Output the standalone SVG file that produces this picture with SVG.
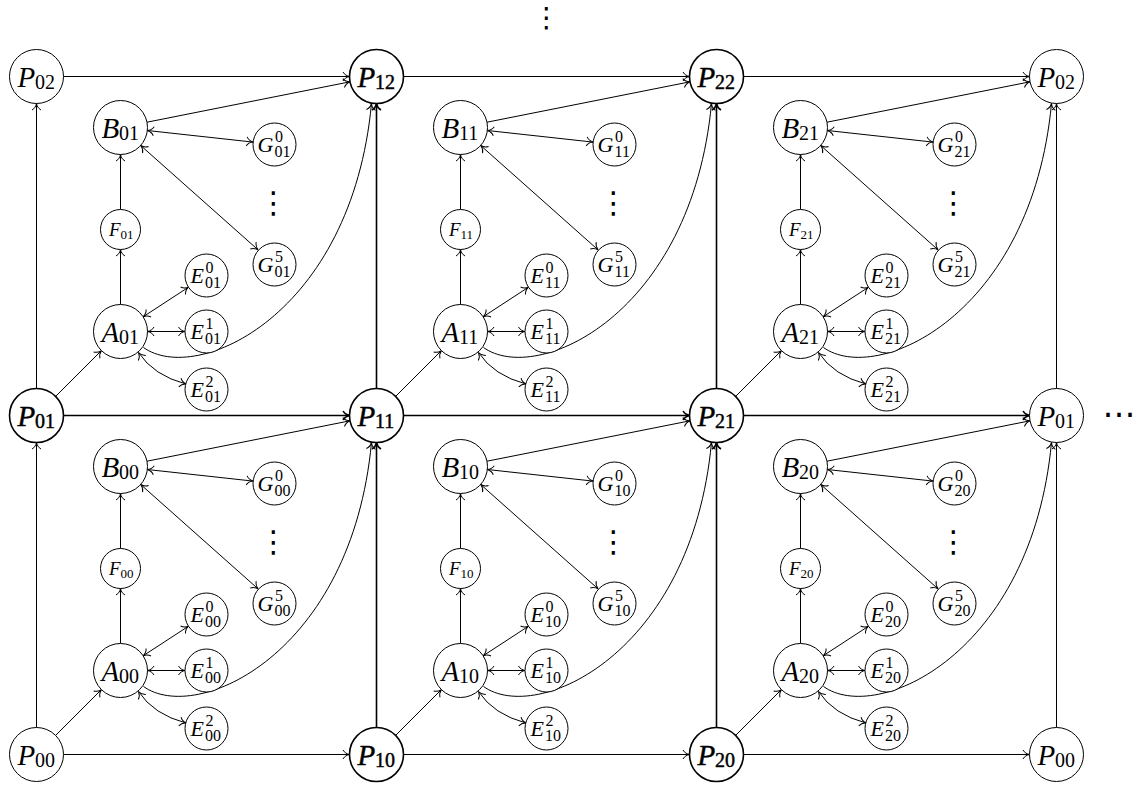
<svg xmlns="http://www.w3.org/2000/svg" width="1135" height="788" viewBox="0 0 1135 788">
<style>
#nodes circle{fill:#fff;stroke:#000;stroke-width:1}
#nodes .dbl circle{stroke-width:1.6}
#nodes .dbl text{stroke:#000;stroke-width:0.45}
svg #nodes text{font-family:"Liberation Serif","Times New Roman",serif !important}
svg #nodes text.dots, svg text.dots{font-family:"DejaVu Sans",sans-serif !important}
.c{fill:none;stroke:#000;stroke-width:1;marker-end:url(#ah)}
.t{stroke-width:1.6;marker-end:url(#ahb)}
</style>
<defs>
<marker id="ah" markerUnits="userSpaceOnUse" markerWidth="14" markerHeight="14" viewBox="-10 -7 12 14" refX="0" refY="0" orient="auto-start-reverse" overflow="visible"><path d="M-6.5,-4.5 C-5,-1.8 -2.5,-0.5 0,0 C-2.5,0.5 -5,1.8 -6.5,4.5" fill="none" stroke="#000" stroke-width="1"/></marker>
<marker id="ahb" markerUnits="userSpaceOnUse" markerWidth="14" markerHeight="14" viewBox="-10 -7 12 14" refX="0" refY="0" orient="auto-start-reverse" overflow="visible"><path d="M-6.5,-4.5 C-5,-1.8 -2.5,-0.5 0,0 C-2.5,0.5 -5,1.8 -6.5,4.5" fill="none" stroke="#000" stroke-width="1.5"/></marker>
<g id="cellEdges" class="c">
<path d="M19.1,-19.1 L64.9,-64.9"/><path d="M84,-111 L84,-166"/><path d="M84,-206 L84,-261"/><path d="M110.5,-293.3 L313.5,-333.7"/><path marker-start="url(#ah)" d="M110.8,-285 L216.6,-273.4"/><path marker-start="url(#ah)" d="M104.2,-270 L221.6,-165.6"/><path marker-start="url(#ah)" d="M106.6,-98.7 L152,-128.3"/><path marker-start="url(#ah)" d="M111,-84 L148.5,-84"/><path marker-start="url(#ah)" d="M102,-63 Q117,-40 149.7,-31.4"/><path d="M107,-68 C160,-30 315,-100 335,-312"/>
</g>
</defs>

<g id="connectors">
<g id="grid-edges" class="c">
<path d="M63.5,754.5 H349.5"/>
<path d="M403.5,754.5 H689.5"/>
<path d="M743.5,754.5 H1029.5"/>
<path class="t" d="M63.5,415.5 H349.5"/>
<path class="t" d="M403.5,415.5 H689.5"/>
<path class="t" d="M743.5,415.5 H1029.5"/>
<path d="M63.5,76.5 H349.5"/>
<path d="M403.5,76.5 H689.5"/>
<path d="M743.5,76.5 H1029.5"/>
<path d="M36.5,727.5 V442.5"/>
<path d="M36.5,388.5 V103.5"/>
<path class="t" d="M376.5,727.5 V442.5"/>
<path class="t" d="M376.5,388.5 V103.5"/>
<path class="t" d="M716.5,727.5 V442.5"/>
<path class="t" d="M716.5,388.5 V103.5"/>
<path d="M1056.5,727.5 V442.5"/>
<path d="M1056.5,388.5 V103.5"/>
</g>
<use id="cell-edges-00" href="#cellEdges" transform="translate(36.5,754.5)"/>
<use id="cell-edges-10" href="#cellEdges" transform="translate(376.5,754.5)"/>
<use id="cell-edges-20" href="#cellEdges" transform="translate(716.5,754.5)"/>
<use id="cell-edges-01" href="#cellEdges" transform="translate(36.5,415.5)"/>
<use id="cell-edges-11" href="#cellEdges" transform="translate(376.5,415.5)"/>
<use id="cell-edges-21" href="#cellEdges" transform="translate(716.5,415.5)"/>
</g>

<g id="nodes" font-family="Liberation Serif">
<g id="P00-left" transform="translate(36.5,754.5)"><circle r="27"/><text x="-19" y="10" font-family="Liberation Serif" font-size="29" font-style="italic">P</text><text x="-1.5" y="12.5" font-family="Liberation Serif" font-size="20">00</text></g>
<g id="P10" class="dbl" transform="translate(376.5,754.5)"><circle r="27"/><text x="-19" y="10" font-family="Liberation Serif" font-size="29" font-style="italic">P</text><text x="-1.5" y="12.5" font-family="Liberation Serif" font-size="20">10</text></g>
<g id="P20" class="dbl" transform="translate(716.5,754.5)"><circle r="27"/><text x="-19" y="10" font-family="Liberation Serif" font-size="29" font-style="italic">P</text><text x="-1.5" y="12.5" font-family="Liberation Serif" font-size="20">20</text></g>
<g id="P00-right" transform="translate(1056.5,754.5)"><circle r="27"/><text x="-19" y="10" font-family="Liberation Serif" font-size="29" font-style="italic">P</text><text x="-1.5" y="12.5" font-family="Liberation Serif" font-size="20">00</text></g>
<g id="P01-left" class="dbl" transform="translate(36.5,415.5)"><circle r="27"/><text x="-19" y="10" font-family="Liberation Serif" font-size="29" font-style="italic">P</text><text x="-1.5" y="12.5" font-family="Liberation Serif" font-size="20">01</text></g>
<g id="P11" class="dbl" transform="translate(376.5,415.5)"><circle r="27"/><text x="-19" y="10" font-family="Liberation Serif" font-size="29" font-style="italic">P</text><text x="-1.5" y="12.5" font-family="Liberation Serif" font-size="20">11</text></g>
<g id="P21" class="dbl" transform="translate(716.5,415.5)"><circle r="27"/><text x="-19" y="10" font-family="Liberation Serif" font-size="29" font-style="italic">P</text><text x="-1.5" y="12.5" font-family="Liberation Serif" font-size="20">21</text></g>
<g id="P01-right" transform="translate(1056.5,415.5)"><circle r="27"/><text x="-19" y="10" font-family="Liberation Serif" font-size="29" font-style="italic">P</text><text x="-1.5" y="12.5" font-family="Liberation Serif" font-size="20">01</text></g>
<g id="P02-left" transform="translate(36.5,76.5)"><circle r="27"/><text x="-19" y="10" font-family="Liberation Serif" font-size="29" font-style="italic">P</text><text x="-1.5" y="12.5" font-family="Liberation Serif" font-size="20">02</text></g>
<g id="P12" class="dbl" transform="translate(376.5,76.5)"><circle r="27"/><text x="-19" y="10" font-family="Liberation Serif" font-size="29" font-style="italic">P</text><text x="-1.5" y="12.5" font-family="Liberation Serif" font-size="20">12</text></g>
<g id="P22" class="dbl" transform="translate(716.5,76.5)"><circle r="27"/><text x="-19" y="10" font-family="Liberation Serif" font-size="29" font-style="italic">P</text><text x="-1.5" y="12.5" font-family="Liberation Serif" font-size="20">22</text></g>
<g id="P02-right" transform="translate(1056.5,76.5)"><circle r="27"/><text x="-19" y="10" font-family="Liberation Serif" font-size="29" font-style="italic">P</text><text x="-1.5" y="12.5" font-family="Liberation Serif" font-size="20">02</text></g>

<g id="A00" transform="translate(120.5,670.5)"><circle r="27"/><text x="-19" y="10" font-family="Liberation Serif" font-size="29" font-style="italic">A</text><text x="-1.5" y="12.5" font-family="Liberation Serif" font-size="20">00</text></g>
<g id="F00" transform="translate(120.5,568.5)"><circle r="20"/><text x="-11.5" y="6.5" font-family="Liberation Serif" font-size="19" font-style="italic">F</text><text x="0" y="9" font-family="Liberation Serif" font-size="13">00</text></g>
<g id="B00" transform="translate(120.5,466.5)"><circle r="27"/><text x="-19" y="10" font-family="Liberation Serif" font-size="29" font-style="italic">B</text><text x="-1.5" y="12.5" font-family="Liberation Serif" font-size="20">00</text></g>
<g id="E00-0" transform="translate(206.5,614.5)"><circle r="21.5"/><text x="-16" y="7" font-family="Liberation Serif" font-size="22" font-style="italic">E</text><text x="-1" y="-3" font-family="Liberation Serif" font-size="16">0</text><text x="-1.5" y="12.5" font-family="Liberation Serif" font-size="16">00</text></g>
<g id="E00-1" transform="translate(206.5,670.5)"><circle r="21.5"/><text x="-16" y="7" font-family="Liberation Serif" font-size="22" font-style="italic">E</text><text x="-1" y="-3" font-family="Liberation Serif" font-size="16">1</text><text x="-1.5" y="12.5" font-family="Liberation Serif" font-size="16">00</text></g>
<g id="E00-2" transform="translate(206.5,728.5)"><circle r="21.5"/><text x="-16" y="7" font-family="Liberation Serif" font-size="22" font-style="italic">E</text><text x="-1" y="-3" font-family="Liberation Serif" font-size="16">2</text><text x="-1.5" y="12.5" font-family="Liberation Serif" font-size="16">00</text></g>
<g id="G00-0" transform="translate(274.5,483.5)"><circle r="21.5"/><text x="-17" y="7" font-family="Liberation Serif" font-size="22" font-style="italic">G</text><text x="0.5" y="-3" font-family="Liberation Serif" font-size="16">0</text><text x="0" y="12.5" font-family="Liberation Serif" font-size="16">00</text></g>
<g id="G00-5" transform="translate(274.5,603.5)"><circle r="21.5"/><text x="-17" y="7" font-family="Liberation Serif" font-size="22" font-style="italic">G</text><text x="0.5" y="-3" font-family="Liberation Serif" font-size="16">5</text><text x="0" y="12.5" font-family="Liberation Serif" font-size="16">00</text></g>
<text class="dots" font-family="DejaVu Sans" font-size="30" text-anchor="middle" x="273.5" y="552">⋮</text>

<g id="A10" transform="translate(460.5,670.5)"><circle r="27"/><text x="-19" y="10" font-family="Liberation Serif" font-size="29" font-style="italic">A</text><text x="-1.5" y="12.5" font-family="Liberation Serif" font-size="20">10</text></g>
<g id="F10" transform="translate(460.5,568.5)"><circle r="20"/><text x="-11.5" y="6.5" font-family="Liberation Serif" font-size="19" font-style="italic">F</text><text x="0" y="9" font-family="Liberation Serif" font-size="13">10</text></g>
<g id="B10" transform="translate(460.5,466.5)"><circle r="27"/><text x="-19" y="10" font-family="Liberation Serif" font-size="29" font-style="italic">B</text><text x="-1.5" y="12.5" font-family="Liberation Serif" font-size="20">10</text></g>
<g id="E10-0" transform="translate(546.5,614.5)"><circle r="21.5"/><text x="-16" y="7" font-family="Liberation Serif" font-size="22" font-style="italic">E</text><text x="-1" y="-3" font-family="Liberation Serif" font-size="16">0</text><text x="-1.5" y="12.5" font-family="Liberation Serif" font-size="16">10</text></g>
<g id="E10-1" transform="translate(546.5,670.5)"><circle r="21.5"/><text x="-16" y="7" font-family="Liberation Serif" font-size="22" font-style="italic">E</text><text x="-1" y="-3" font-family="Liberation Serif" font-size="16">1</text><text x="-1.5" y="12.5" font-family="Liberation Serif" font-size="16">10</text></g>
<g id="E10-2" transform="translate(546.5,728.5)"><circle r="21.5"/><text x="-16" y="7" font-family="Liberation Serif" font-size="22" font-style="italic">E</text><text x="-1" y="-3" font-family="Liberation Serif" font-size="16">2</text><text x="-1.5" y="12.5" font-family="Liberation Serif" font-size="16">10</text></g>
<g id="G10-0" transform="translate(614.5,483.5)"><circle r="21.5"/><text x="-17" y="7" font-family="Liberation Serif" font-size="22" font-style="italic">G</text><text x="0.5" y="-3" font-family="Liberation Serif" font-size="16">0</text><text x="0" y="12.5" font-family="Liberation Serif" font-size="16">10</text></g>
<g id="G10-5" transform="translate(614.5,603.5)"><circle r="21.5"/><text x="-17" y="7" font-family="Liberation Serif" font-size="22" font-style="italic">G</text><text x="0.5" y="-3" font-family="Liberation Serif" font-size="16">5</text><text x="0" y="12.5" font-family="Liberation Serif" font-size="16">10</text></g>
<text class="dots" font-family="DejaVu Sans" font-size="30" text-anchor="middle" x="613.5" y="552">⋮</text>

<g id="A20" transform="translate(800.5,670.5)"><circle r="27"/><text x="-19" y="10" font-family="Liberation Serif" font-size="29" font-style="italic">A</text><text x="-1.5" y="12.5" font-family="Liberation Serif" font-size="20">20</text></g>
<g id="F20" transform="translate(800.5,568.5)"><circle r="20"/><text x="-11.5" y="6.5" font-family="Liberation Serif" font-size="19" font-style="italic">F</text><text x="0" y="9" font-family="Liberation Serif" font-size="13">20</text></g>
<g id="B20" transform="translate(800.5,466.5)"><circle r="27"/><text x="-19" y="10" font-family="Liberation Serif" font-size="29" font-style="italic">B</text><text x="-1.5" y="12.5" font-family="Liberation Serif" font-size="20">20</text></g>
<g id="E20-0" transform="translate(886.5,614.5)"><circle r="21.5"/><text x="-16" y="7" font-family="Liberation Serif" font-size="22" font-style="italic">E</text><text x="-1" y="-3" font-family="Liberation Serif" font-size="16">0</text><text x="-1.5" y="12.5" font-family="Liberation Serif" font-size="16">20</text></g>
<g id="E20-1" transform="translate(886.5,670.5)"><circle r="21.5"/><text x="-16" y="7" font-family="Liberation Serif" font-size="22" font-style="italic">E</text><text x="-1" y="-3" font-family="Liberation Serif" font-size="16">1</text><text x="-1.5" y="12.5" font-family="Liberation Serif" font-size="16">20</text></g>
<g id="E20-2" transform="translate(886.5,728.5)"><circle r="21.5"/><text x="-16" y="7" font-family="Liberation Serif" font-size="22" font-style="italic">E</text><text x="-1" y="-3" font-family="Liberation Serif" font-size="16">2</text><text x="-1.5" y="12.5" font-family="Liberation Serif" font-size="16">20</text></g>
<g id="G20-0" transform="translate(954.5,483.5)"><circle r="21.5"/><text x="-17" y="7" font-family="Liberation Serif" font-size="22" font-style="italic">G</text><text x="0.5" y="-3" font-family="Liberation Serif" font-size="16">0</text><text x="0" y="12.5" font-family="Liberation Serif" font-size="16">20</text></g>
<g id="G20-5" transform="translate(954.5,603.5)"><circle r="21.5"/><text x="-17" y="7" font-family="Liberation Serif" font-size="22" font-style="italic">G</text><text x="0.5" y="-3" font-family="Liberation Serif" font-size="16">5</text><text x="0" y="12.5" font-family="Liberation Serif" font-size="16">20</text></g>
<text class="dots" font-family="DejaVu Sans" font-size="30" text-anchor="middle" x="953.5" y="552">⋮</text>

<g id="A01" transform="translate(120.5,331.5)"><circle r="27"/><text x="-19" y="10" font-family="Liberation Serif" font-size="29" font-style="italic">A</text><text x="-1.5" y="12.5" font-family="Liberation Serif" font-size="20">01</text></g>
<g id="F01" transform="translate(120.5,229.5)"><circle r="20"/><text x="-11.5" y="6.5" font-family="Liberation Serif" font-size="19" font-style="italic">F</text><text x="0" y="9" font-family="Liberation Serif" font-size="13">01</text></g>
<g id="B01" transform="translate(120.5,127.5)"><circle r="27"/><text x="-19" y="10" font-family="Liberation Serif" font-size="29" font-style="italic">B</text><text x="-1.5" y="12.5" font-family="Liberation Serif" font-size="20">01</text></g>
<g id="E01-0" transform="translate(206.5,275.5)"><circle r="21.5"/><text x="-16" y="7" font-family="Liberation Serif" font-size="22" font-style="italic">E</text><text x="-1" y="-3" font-family="Liberation Serif" font-size="16">0</text><text x="-1.5" y="12.5" font-family="Liberation Serif" font-size="16">01</text></g>
<g id="E01-1" transform="translate(206.5,331.5)"><circle r="21.5"/><text x="-16" y="7" font-family="Liberation Serif" font-size="22" font-style="italic">E</text><text x="-1" y="-3" font-family="Liberation Serif" font-size="16">1</text><text x="-1.5" y="12.5" font-family="Liberation Serif" font-size="16">01</text></g>
<g id="E01-2" transform="translate(206.5,389.5)"><circle r="21.5"/><text x="-16" y="7" font-family="Liberation Serif" font-size="22" font-style="italic">E</text><text x="-1" y="-3" font-family="Liberation Serif" font-size="16">2</text><text x="-1.5" y="12.5" font-family="Liberation Serif" font-size="16">01</text></g>
<g id="G01-0" transform="translate(274.5,144.5)"><circle r="21.5"/><text x="-17" y="7" font-family="Liberation Serif" font-size="22" font-style="italic">G</text><text x="0.5" y="-3" font-family="Liberation Serif" font-size="16">0</text><text x="0" y="12.5" font-family="Liberation Serif" font-size="16">01</text></g>
<g id="G01-5" transform="translate(274.5,264.5)"><circle r="21.5"/><text x="-17" y="7" font-family="Liberation Serif" font-size="22" font-style="italic">G</text><text x="0.5" y="-3" font-family="Liberation Serif" font-size="16">5</text><text x="0" y="12.5" font-family="Liberation Serif" font-size="16">01</text></g>
<text class="dots" font-family="DejaVu Sans" font-size="30" text-anchor="middle" x="273.5" y="213">⋮</text>

<g id="A11" transform="translate(460.5,331.5)"><circle r="27"/><text x="-19" y="10" font-family="Liberation Serif" font-size="29" font-style="italic">A</text><text x="-1.5" y="12.5" font-family="Liberation Serif" font-size="20">11</text></g>
<g id="F11" transform="translate(460.5,229.5)"><circle r="20"/><text x="-11.5" y="6.5" font-family="Liberation Serif" font-size="19" font-style="italic">F</text><text x="0" y="9" font-family="Liberation Serif" font-size="13">11</text></g>
<g id="B11" transform="translate(460.5,127.5)"><circle r="27"/><text x="-19" y="10" font-family="Liberation Serif" font-size="29" font-style="italic">B</text><text x="-1.5" y="12.5" font-family="Liberation Serif" font-size="20">11</text></g>
<g id="E11-0" transform="translate(546.5,275.5)"><circle r="21.5"/><text x="-16" y="7" font-family="Liberation Serif" font-size="22" font-style="italic">E</text><text x="-1" y="-3" font-family="Liberation Serif" font-size="16">0</text><text x="-1.5" y="12.5" font-family="Liberation Serif" font-size="16">11</text></g>
<g id="E11-1" transform="translate(546.5,331.5)"><circle r="21.5"/><text x="-16" y="7" font-family="Liberation Serif" font-size="22" font-style="italic">E</text><text x="-1" y="-3" font-family="Liberation Serif" font-size="16">1</text><text x="-1.5" y="12.5" font-family="Liberation Serif" font-size="16">11</text></g>
<g id="E11-2" transform="translate(546.5,389.5)"><circle r="21.5"/><text x="-16" y="7" font-family="Liberation Serif" font-size="22" font-style="italic">E</text><text x="-1" y="-3" font-family="Liberation Serif" font-size="16">2</text><text x="-1.5" y="12.5" font-family="Liberation Serif" font-size="16">11</text></g>
<g id="G11-0" transform="translate(614.5,144.5)"><circle r="21.5"/><text x="-17" y="7" font-family="Liberation Serif" font-size="22" font-style="italic">G</text><text x="0.5" y="-3" font-family="Liberation Serif" font-size="16">0</text><text x="0" y="12.5" font-family="Liberation Serif" font-size="16">11</text></g>
<g id="G11-5" transform="translate(614.5,264.5)"><circle r="21.5"/><text x="-17" y="7" font-family="Liberation Serif" font-size="22" font-style="italic">G</text><text x="0.5" y="-3" font-family="Liberation Serif" font-size="16">5</text><text x="0" y="12.5" font-family="Liberation Serif" font-size="16">11</text></g>
<text class="dots" font-family="DejaVu Sans" font-size="30" text-anchor="middle" x="613.5" y="213">⋮</text>

<g id="A21" transform="translate(800.5,331.5)"><circle r="27"/><text x="-19" y="10" font-family="Liberation Serif" font-size="29" font-style="italic">A</text><text x="-1.5" y="12.5" font-family="Liberation Serif" font-size="20">21</text></g>
<g id="F21" transform="translate(800.5,229.5)"><circle r="20"/><text x="-11.5" y="6.5" font-family="Liberation Serif" font-size="19" font-style="italic">F</text><text x="0" y="9" font-family="Liberation Serif" font-size="13">21</text></g>
<g id="B21" transform="translate(800.5,127.5)"><circle r="27"/><text x="-19" y="10" font-family="Liberation Serif" font-size="29" font-style="italic">B</text><text x="-1.5" y="12.5" font-family="Liberation Serif" font-size="20">21</text></g>
<g id="E21-0" transform="translate(886.5,275.5)"><circle r="21.5"/><text x="-16" y="7" font-family="Liberation Serif" font-size="22" font-style="italic">E</text><text x="-1" y="-3" font-family="Liberation Serif" font-size="16">0</text><text x="-1.5" y="12.5" font-family="Liberation Serif" font-size="16">21</text></g>
<g id="E21-1" transform="translate(886.5,331.5)"><circle r="21.5"/><text x="-16" y="7" font-family="Liberation Serif" font-size="22" font-style="italic">E</text><text x="-1" y="-3" font-family="Liberation Serif" font-size="16">1</text><text x="-1.5" y="12.5" font-family="Liberation Serif" font-size="16">21</text></g>
<g id="E21-2" transform="translate(886.5,389.5)"><circle r="21.5"/><text x="-16" y="7" font-family="Liberation Serif" font-size="22" font-style="italic">E</text><text x="-1" y="-3" font-family="Liberation Serif" font-size="16">2</text><text x="-1.5" y="12.5" font-family="Liberation Serif" font-size="16">21</text></g>
<g id="G21-0" transform="translate(954.5,144.5)"><circle r="21.5"/><text x="-17" y="7" font-family="Liberation Serif" font-size="22" font-style="italic">G</text><text x="0.5" y="-3" font-family="Liberation Serif" font-size="16">0</text><text x="0" y="12.5" font-family="Liberation Serif" font-size="16">21</text></g>
<g id="G21-5" transform="translate(954.5,264.5)"><circle r="21.5"/><text x="-17" y="7" font-family="Liberation Serif" font-size="22" font-style="italic">G</text><text x="0.5" y="-3" font-family="Liberation Serif" font-size="16">5</text><text x="0" y="12.5" font-family="Liberation Serif" font-size="16">21</text></g>
<text class="dots" font-family="DejaVu Sans" font-size="30" text-anchor="middle" x="953.5" y="213">⋮</text>
</g>

<text class="dots" font-family="DejaVu Sans" font-size="28" text-anchor="middle" x="546.5" y="27">⋮</text>
<text class="dots" font-family="DejaVu Sans" font-size="33" text-anchor="middle" x="1119" y="425">⋯</text>
</svg>
